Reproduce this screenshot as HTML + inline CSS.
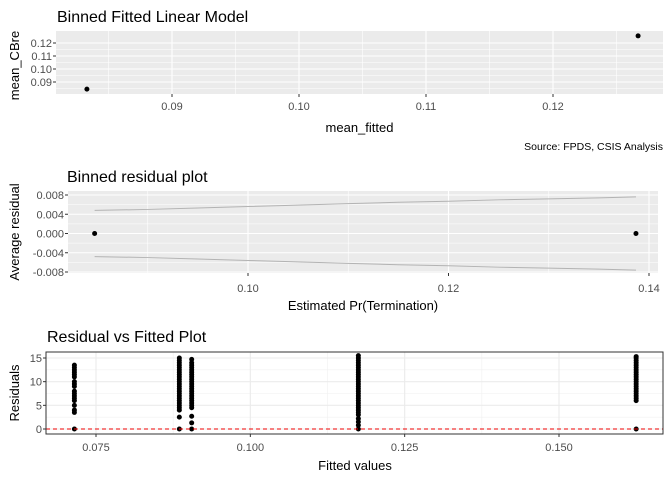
<!DOCTYPE html>
<html><head><meta charset="utf-8"><style>
body{margin:0;background:#fff;font-family:"Liberation Sans",sans-serif}
svg text{font-family:"Liberation Sans",sans-serif}
</style></head><body>
<svg id="c" width="672" height="480" xmlns="http://www.w3.org/2000/svg"></svg>
<script>
// Panel 1 data
const p1X=[0.0833,0.1267];
const p1Y=[0.0845,0.1255];
const p1XTicks=[0.09,0.10,0.11,0.12];
const p1YTicks=[0.09,0.10,0.11,0.12];
// Panel 2 data
const p2X=[0.0847,0.1387];
const p2Y=[0,0];
const p2BandX=[0.0847,0.090,0.095,0.100,0.105,0.110,0.115,0.120,0.125,0.130,0.135,0.1387];
const p2BandUp=[0.0048,0.0050,0.0053,0.0056,0.0059,0.0062,0.0065,0.0067,0.0070,0.0072,0.0074,0.0076];
const p2XTicks=[0.10,0.12,0.14];
const p2YTicks=[-0.008,-0.004,0,0.004,0.008];
// Panel 3 data
const p3Fitted=[0.0715,0.0885,0.0905,0.1175,0.1625];
const p3Res=[
 [0,3.5,4,5,6,6.5,7,7.5,8,9,9.5,10,11,11.5,12,12.5,13,13.5],
 [0,2.5,4,4.5,5,5.5,6,6.5,7,7.5,8,8.5,9,9.5,10,10.5,11,11.5,12,12.5,13,13.5,14,14.5,15],
 [0,1.3,2.7,4.5,5,5.5,6,6.5,7,7.5,8,8.5,9,9.5,10,10.5,11,11.5,12,12.5,13,13.5,14,14.7],
 [0,0.8,1.5,2.2,3,3.5,4,4.5,5,5.5,6,6.5,7,7.5,8,8.5,9,9.5,10,10.5,11,11.5,12,12.5,13,13.5,14,14.5,15,15.5],
 [0,6,6.5,7,7.5,8,8.5,9,9.5,10,10.5,11,11.5,12,12.5,13,13.5,14,14.5,15,15.3]
];
const p3XTicks=[0.075,0.100,0.125,0.150];
const p3YTicks=[0,5,10,15];

const svg=document.getElementById('c');
const NS='http://www.w3.org/2000/svg';
function mk(tag,attrs,parent){const e=document.createElementNS(NS,tag);for(const k in attrs)e.setAttribute(k,attrs[k]);(parent||svg).appendChild(e);return e;}
function txt(s,attrs){const e=mk('text',attrs);e.textContent=s;return e;}
function lin(d0,d1,r0,r1){return v=>r0+(v-d0)/(d1-d0)*(r1-r0);}

// ---------- Panel 1 ----------
{
const L=56,R=663,T=31,B=94;
const x=lin(0.09,0.10,172,299), y=lin(0.09,0.12,82,43);
const bg=mk('rect',{x:L,y:T,width:R-L,height:B-T,fill:'#ebebeb'});

for(let i=0;i<p1XTicks.length;i++){const v=p1XTicks[i];
 mk('line',{x1:x(v-0.005),x2:x(v-0.005),y1:T,y2:B,stroke:'#fff','stroke-width':0.6});
 mk('line',{x1:x(v),x2:x(v),y1:T,y2:B,stroke:'#fff','stroke-width':1.1});
 const t=txt(v.toFixed(2),{x:x(v),y:B+16,'font-size':11,fill:'#4d4d4d','text-anchor':'middle'});
 
}
mk('line',{x1:x(0.125),x2:x(0.125),y1:T,y2:B,stroke:'#fff','stroke-width':0.6});
for(let i=0;i<p1YTicks.length;i++){const v=p1YTicks[i];
 mk('line',{x1:L,x2:R,y1:y(v-0.005),y2:y(v-0.005),stroke:'#fff','stroke-width':0.6});
 mk('line',{x1:L,x2:R,y1:y(v),y2:y(v),stroke:'#fff','stroke-width':1.1});
 mk('line',{x1:L-3,x2:L,y1:y(v),y2:y(v),stroke:'#333'});
 const t=txt(v.toFixed(2),{x:L-4,y:y(v)+4,'font-size':11,fill:'#4d4d4d','text-anchor':'end'});
 
}
for(const v of p1XTicks)mk('line',{x1:x(v),x2:x(v),y1:B,y2:B+3,stroke:'#333'});
for(let i=0;i<p1X.length;i++){const p=mk('circle',{cx:x(p1X[i]),cy:y(p1Y[i]),r:2.5,fill:'#000'});
 }
let t=txt('Binned Fitted Linear Model',{x:57,y:22,'font-size':16,fill:'#000'});
t=txt('mean_fitted',{x:(L+R)/2,y:132,'font-size':13,fill:'#000','text-anchor':'middle'});
t=txt('mean_CBre',{x:0,y:0,'font-size':13,fill:'#000','text-anchor':'middle',transform:`translate(19,${(T+B)/2+3}) rotate(-90)`});
t=txt('Source: FPDS, CSIS Analysis',{x:663,y:150,'font-size':10.5,fill:'#000','text-anchor':'end'});
}

// ---------- Panel 2 ----------
{
const L=68,R=658,T=191,B=273;
const x=lin(0.10,0.14,248,649), y=lin(-0.008,0.008,272,195);
const bg=mk('rect',{x:L,y:T,width:R-L,height:B-T,fill:'#ebebeb'});

for(const v of [0.09,0.11,0.13])mk('line',{x1:x(v),x2:x(v),y1:T,y2:B,stroke:'#fff','stroke-width':0.6});
for(const v of [-0.006,-0.002,0.002,0.006])mk('line',{x1:L,x2:R,y1:y(v),y2:y(v),stroke:'#fff','stroke-width':0.6});
for(const v of p2XTicks){
 mk('line',{x1:x(v),x2:x(v),y1:T,y2:B,stroke:'#fff','stroke-width':1.1});
 mk('line',{x1:x(v),x2:x(v),y1:B,y2:B+3,stroke:'#333'});
 const t=txt(v.toFixed(2),{x:x(v),y:B+19,'font-size':11,fill:'#4d4d4d','text-anchor':'middle'});
 
}
for(const v of p2YTicks){
 mk('line',{x1:L,x2:R,y1:y(v),y2:y(v),stroke:'#fff','stroke-width':1.1});
 mk('line',{x1:L-3,x2:L,y1:y(v),y2:y(v),stroke:'#333'});
 const t=txt(v.toFixed(3),{x:L-4,y:y(v)+4,'font-size':11,fill:'#4d4d4d','text-anchor':'end'});
 
}
let up='',dn='';
for(let i=0;i<p2BandX.length;i++){up+=(i?'L':'M')+x(p2BandX[i])+','+y(p2BandUp[i]);dn+=(i?'L':'M')+x(p2BandX[i])+','+y(-p2BandUp[i]);}
let e=mk('path',{d:up,fill:'none',stroke:'#b3b3b3','stroke-width':1});
e=mk('path',{d:dn,fill:'none',stroke:'#b3b3b3','stroke-width':1});
for(let i=0;i<p2X.length;i++){const p=mk('circle',{cx:x(p2X[i]),cy:y(p2Y[i]),r:2.5,fill:'#000'});
 }
let t=txt('Binned residual plot',{x:67,y:182,'font-size':16,fill:'#000'});
t=txt('Estimated Pr(Termination)',{x:(L+R)/2,y:310,'font-size':13,fill:'#000','text-anchor':'middle'});
t=txt('Average residual',{x:0,y:0,'font-size':13,fill:'#000','text-anchor':'middle',transform:`translate(19,${(T+B)/2}) rotate(-90)`});
}

// ---------- Panel 3 ----------
{
const L=46,R=663,T=352,B=434;
const x=lin(0.075,0.150,96,559), y=lin(0,15,429,358);
const bg=mk('rect',{x:L,y:T,width:R-L,height:B-T,fill:'#fff'});

for(const v of [0.0875,0.1125,0.1375])mk('line',{x1:x(v),x2:x(v),y1:T,y2:B,stroke:'#f0f0f0','stroke-width':0.6});
for(const v of [2.5,7.5,12.5])mk('line',{x1:L,x2:R,y1:y(v),y2:y(v),stroke:'#f0f0f0','stroke-width':0.6});
for(const v of p3XTicks){
 mk('line',{x1:x(v),x2:x(v),y1:T,y2:B,stroke:'#ebebeb','stroke-width':1.1});
 mk('line',{x1:x(v),x2:x(v),y1:B,y2:B+3,stroke:'#333'});
 const t=txt(v.toFixed(3),{x:x(v),y:B+17,'font-size':11,fill:'#4d4d4d','text-anchor':'middle'});
 
}
for(const v of p3YTicks){
 mk('line',{x1:L,x2:R,y1:y(v),y2:y(v),stroke:'#ebebeb','stroke-width':1.1});
 mk('line',{x1:L-3,x2:L,y1:y(v),y2:y(v),stroke:'#333'});
 const t=txt(String(v),{x:L-4,y:y(v)+4,'font-size':11,fill:'#4d4d4d','text-anchor':'end'});
 
}
for(let i=0;i<p3Fitted.length;i++)for(const r of p3Res[i]){
 const p=mk('circle',{cx:x(p3Fitted[i]),cy:y(r),r:2.5,fill:'#000'});
 }
let e=mk('line',{x1:L,x2:R,y1:y(0),y2:y(0),stroke:'#e00','stroke-width':1,'stroke-dasharray':'4,3'});

e=mk('rect',{x:L,y:T,width:R-L,height:B-T,fill:'none',stroke:'#333','stroke-width':1});

let t=txt('Residual vs Fitted Plot',{x:47,y:342,'font-size':16,fill:'#000'});
t=txt('Fitted values',{x:355,y:470,'font-size':13,fill:'#000','text-anchor':'middle'});
t=txt('Residuals',{x:0,y:0,'font-size':13,fill:'#000','text-anchor':'middle',transform:`translate(19,${(T+B)/2}) rotate(-90)`});
}
</script>
</body></html>
